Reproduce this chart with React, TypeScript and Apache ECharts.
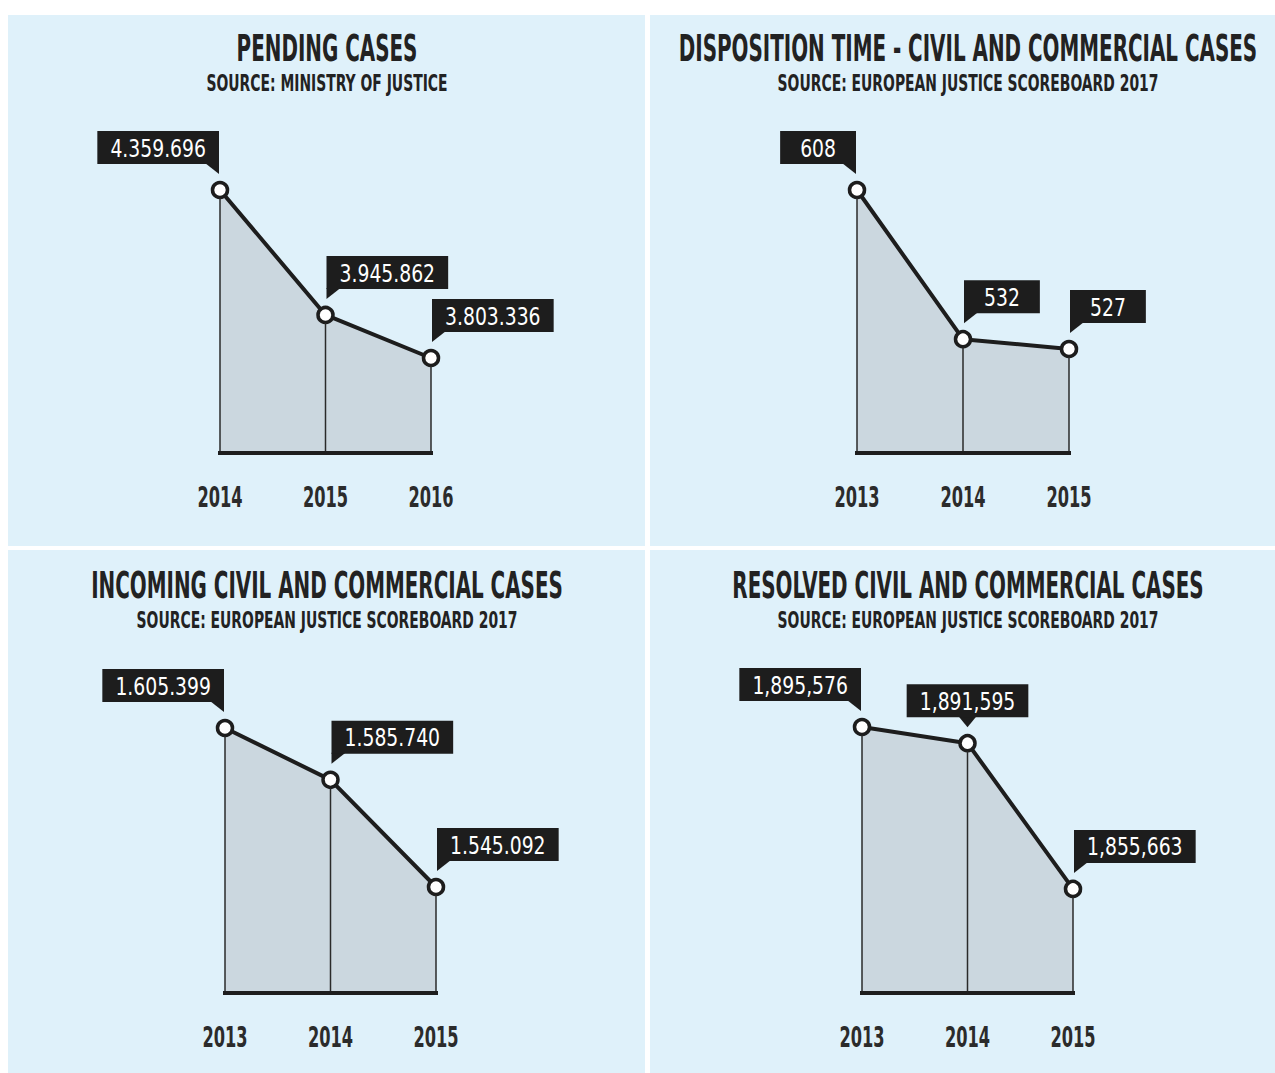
import React, { useEffect, useRef } from "react";
import * as echarts from "echarts";

// ---- data ----
const titles = [
  "PENDING CASES",
  "DISPOSITION TIME - CIVIL AND COMMERCIAL CASES",
  "INCOMING CIVIL AND COMMERCIAL CASES",
  "RESOLVED CIVIL AND COMMERCIAL CASES",
];
const sources = [
  "SOURCE: MINISTRY OF JUSTICE",
  "SOURCE: EUROPEAN JUSTICE SCOREBOARD 2017",
  "SOURCE: EUROPEAN JUSTICE SCOREBOARD 2017",
  "SOURCE: EUROPEAN JUSTICE SCOREBOARD 2017",
];
const pendingYears = ["2014", "2015", "2016"];
const pendingValues = [4359696, 3945862, 3803336];
const dispositionYears = ["2013", "2014", "2015"];
const dispositionValues = [608, 532, 527];
const incomingYears = ["2013", "2014", "2015"];
const incomingValues = [1605399, 1585740, 1545092];
const resolvedYears = ["2013", "2014", "2015"];
const resolvedValues = [1895576, 1891595, 1855663];

const categories = [pendingYears, dispositionYears, incomingYears, resolvedYears];
const values = [pendingValues, dispositionValues, incomingValues, resolvedValues];
const separators = [".", ",", ".", ","];
const axisMins = [3488700, 474, 1504900, 1830000];
const calloutSides = [
  ["right", "left", "left"],
  ["right", "left", "left"],
  ["right", "left", "left"],
  ["right", "center", "left"],
];

// ---- layout ----
const panels = [
  { x: 8, y: 15, w: 637, h: 531 },
  { x: 650, y: 15, w: 625, h: 531 },
  { x: 8, y: 550, w: 637, h: 523 },
  { x: 650, y: 550, w: 625, h: 523 },
];
const grids = [
  { left: 220, top: 190, width: 211, height: 263 },
  { left: 857, top: 190, width: 212, height: 263 },
  { left: 225, top: 728, width: 211, height: 265 },
  { left: 862, top: 727, width: 211, height: 266 },
];
const titleCenters = [
  { x: 327, y: 48, sy: 83 },
  { x: 968, y: 48, sy: 83 },
  { x: 327, y: 585, sy: 620 },
  { x: 968, y: 585, sy: 620 },
];

const NARROW = '"Liberation Sans Narrow", "DejaVu Sans Condensed", sans-serif';
const BG = "#dff1fa";
const AREA = "#cbd7df";
const INK = "#1d1d1d";

function fmt(v: number, sep: string) {
  return String(v).replace(/\B(?=(\d{3})+(?!\d))/g, sep);
}

export default function App() {
  const ref = useRef<HTMLDivElement>(null);
  useEffect(() => {
    if (!ref.current) return;
    const chart = echarts.init(ref.current, null, { renderer: "svg" });

    const graphic: any[] = [];
    panels.forEach((p) => {
      graphic.push({
        type: "rect",
        shape: { x: p.x, y: p.y, width: p.w, height: p.h },
        style: { fill: BG },
        z: -10,
        silent: true,
      });
    });
    titleCenters.forEach((t, i) => {
      graphic.push({
        type: "text",
        x: t.x,
        y: t.y,
        scaleX: 0.885,
        scaleY: 1.5,
        style: {
          text: titles[i],
          font: `bold 25px ${NARROW}`,
          fill: "#222",
          align: "center",
          verticalAlign: "middle",
          textAlign: "center",
          textVerticalAlign: "middle",
        },
        silent: true,
      });
      graphic.push({
        type: "text",
        x: t.x,
        y: t.sy,
        scaleX: 0.91,
        scaleY: 1.4,
        style: {
          text: sources[i],
          font: `bold 17px ${NARROW}`,
          fill: "#222",
          align: "center",
          verticalAlign: "middle",
          textAlign: "center",
          textVerticalAlign: "middle",
        },
        silent: true,
      });
    });

    const series: any[] = [];
    values.forEach((vals, i) => {
      series.push({
        type: "line",
        xAxisIndex: i,
        yAxisIndex: i,
        data: vals,
        symbol: "circle",
        symbolSize: 15,
        itemStyle: { color: "#fff", borderColor: INK, borderWidth: 3.5 },
        lineStyle: { color: INK, width: 4 },
        areaStyle: { color: AREA, opacity: 1, origin: "start" },
        z: 3,
      });
      series.push({
        type: "custom",
        xAxisIndex: i,
        yAxisIndex: i,
        z: 5,
        silent: true,
        data: vals.map((v, k) => [k, v]),
        renderItem: (params: any, api: any) => {
          const k = params.dataIndex;
          const pt = api.coord([api.value(0), api.value(1)]);
          const base = api.coord([api.value(0), axisMins[i]]);
          const side = calloutSides[i][k];
          const bottom = pt[1] - 26;
          const text = fmt(vals[k], separators[i]);
          const padX = text.length <= 3 ? 23 : 15;
          let tx = pt[0];
          let align = "center";
          let tail: number[][] = [];
          if (side === "right") {
            tx = pt[0] - 1;
            align = "right";
            tail = [[tx - 14, bottom - 1], [tx, bottom - 1], [tx, bottom + 10]];
          } else if (side === "left") {
            tx = pt[0] + 1;
            align = "left";
            tail = [[tx, bottom - 1], [tx + 14, bottom - 1], [tx, bottom + 10]];
          } else {
            tail = [[tx - 9, bottom - 1], [tx + 9, bottom - 1], [tx, bottom + 10]];
          }
          return {
            type: "group",
            children: [
              {
                type: "line",
                shape: { x1: pt[0], y1: pt[1] + 8, x2: base[0], y2: base[1] },
                style: { stroke: "#2a2a2a", lineWidth: 1.5 },
              },
              {
                type: "polygon",
                shape: { points: tail },
                style: { fill: INK },
              },
              {
                type: "text",
                x: tx,
                y: bottom,
                scaleX: 0.87,
                style: {
                  text,
                  font: `24px ${NARROW}`,
                  fill: "#fff",
                  align,
                  verticalAlign: "bottom",
                  textAlign: align,
                  textVerticalAlign: "bottom",
                  lineHeight: 24,
                  backgroundColor: INK,
                  padding: [5, padX, 4, padX],
                },
              },
              {
                type: "text",
                x: base[0],
                y: base[1] + 44,
                scaleX: 0.82,
                scaleY: 1.25,
                style: {
                  text: categories[i][k],
                  font: `bold 22px ${NARROW}`,
                  fill: "#2b2b2b",
                  align: "center",
                  verticalAlign: "middle",
                  textAlign: "center",
                  textVerticalAlign: "middle",
                },
              },
            ],
          };
        },
      });
    });

    chart.setOption({
      animation: false,
      backgroundColor: "#ffffff",
      graphic,
      grid: grids.map((g) => ({ ...g, containLabel: false })),
      xAxis: categories.map((cats, i) => ({
        type: "category",
        gridIndex: i,
        data: cats,
        boundaryGap: false,
        axisLine: { show: true, lineStyle: { color: INK, width: 4, cap: "square" } },
        axisTick: { show: false },
        splitLine: { show: false },
        axisLabel: { show: false },
        z: 6,
      })),
      yAxis: values.map((vals, i) => ({
        type: "value",
        gridIndex: i,
        min: axisMins[i],
        max: "dataMax",
        show: false,
        splitLine: { show: false },
      })),
      series,
    });
    return () => chart.dispose();
  }, []);
  return (
    <div
      ref={ref}
      style={{ position: "fixed", left: 0, top: 0, width: 1275, height: 1073 }}
    />
  );
}
